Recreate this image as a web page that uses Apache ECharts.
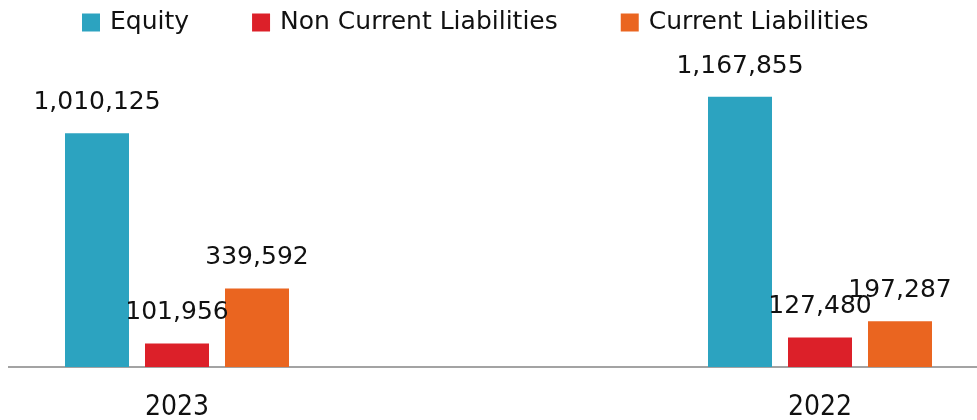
<!DOCTYPE html>
<html>
<head>
<meta charset="utf-8">
<script src="https://cdn.jsdelivr.net/npm/echarts@6/dist/echarts.min.js"></script>
<style>
  html, body { margin: 0; padding: 0; background: #fff; }
  #chart { width: 977px; height: 420px; }
</style>
</head>
<body>
<div id="chart"></div>
<script>
var years = ['2023', '2022'];
var equity = [1010125, 1167855];
var nonCurrentLiabilities = [101956, 127480];
var currentLiabilities = [339592, 197287];

var myChart = echarts.init(document.getElementById('chart'));

function barSeries(name, data, color) {
    return {
        name: name,
        type: 'bar',
        data: data,
        barWidth: 64,
        barGap: '25%',
        itemStyle: { color: color },
        label: {
            show: true,
            position: 'top',
            distance: 18,
            color: '#111',
            fontFamily: 'DejaVu Sans',
            fontSize: 25,
            formatter: function (p) {
                return p.value.toLocaleString('en-US');
            }
        }
    };
}

var option = {
    animation: false,
    backgroundColor: '#fff',
    legend: {
        left: 77,
        top: 5,
        itemWidth: 18,
        itemHeight: 18,
        itemGap: 63,
        icon: 'rect',
        textStyle: {
            color: '#111',
            fontFamily: 'DejaVu Sans',
            fontSize: 25,
            padding: [0, 0, 0, 5]
        },
        data: ['Equity', 'Non Current Liabilities', 'Current Liabilities']
    },
    grid: {
        left: -144.5,
        right: -164.5,
        top: 43,
        bottom: 53,
        containLabel: false,
        outerBoundsMode: 'none'
    },
    xAxis: {
        type: 'category',
        data: years,
        axisLine: { show: false },
        axisTick: { show: false },
        axisLabel: {
            margin: 27,
            color: '#111',
            fontFamily: 'DejaVu Sans Condensed',
            fontSize: 28
        }
    },
    yAxis: {
        type: 'value',
        min: 0,
        max: 1400000,
        show: false,
        splitLine: { show: false }
    },
    graphic: [{
        type: 'line',
        shape: { x1: 8, y1: 367, x2: 977, y2: 367 },
        style: { stroke: '#a3a3a3', lineWidth: 2 }
    }],
    series: [
        barSeries('Equity', equity, '#2ca3c0'),
        barSeries('Non Current Liabilities', nonCurrentLiabilities, '#dc2029'),
        barSeries('Current Liabilities', currentLiabilities, '#ea6520')
    ]
};

myChart.setOption(option, true);
</script>
</body>
</html>
